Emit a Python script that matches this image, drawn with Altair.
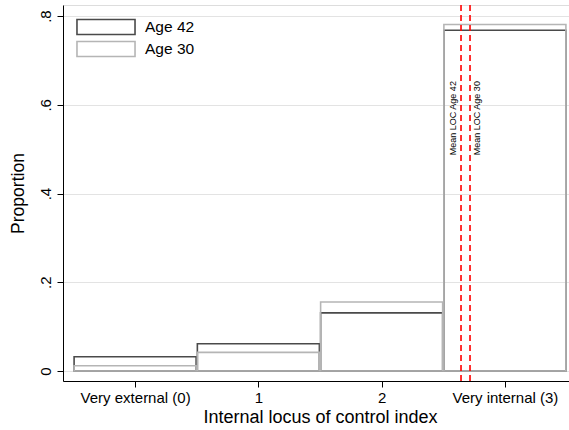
import altair as alt
import pandas as pd

categories = [0, 1, 2, 3]
cat_labels = ["Very external (0)", "1", "2", "Very internal (3)"]
age42 = [0.032, 0.0615, 0.131, 0.768]
age30 = [0.012, 0.042, 0.1555, 0.781]
mean_names = ["Mean LOC Age 42", "Mean LOC Age 30"]
mean_values = [2.644, 2.717]

rows = []
for g, vals in [("Age 42", age42), ("Age 30", age30)]:
    for c, v in zip(categories, vals):
        rows.append({"cat": c, "group": g, "value": v, "x0": c - 0.495, "x1": c + 0.495})
bars_df = pd.DataFrame(rows)
means_df = pd.DataFrame({"name": mean_names, "mean": mean_values, "ypos": [0.57, 0.57]})

FONT = "Liberation Sans"
xscale = alt.Scale(domain=[-0.585, 3.52], nice=False, zero=False)
yscale = alt.Scale(domain=[-0.0225, 0.825], nice=False, zero=False)

label_expr = ("datum.value == 0 ? '" + cat_labels[0] + "' : datum.value == 3 ? '" + cat_labels[3]
              + "' : format(datum.value, 'd')")

bars = alt.Chart(bars_df).mark_rect(fill=None, fillOpacity=0, strokeWidth=1.6).encode(
    x=alt.X("x0:Q", scale=xscale,
            axis=alt.Axis(values=categories, labelExpr=label_expr, title="Internal locus of control index",
                          grid=False, tickSize=6, labelFontSize=15, titleFontSize=18, labelPadding=3,
                          titlePadding=3, titleX=257, titleFontWeight="normal", domainColor="#000",
                          tickColor="#000", labelColor="#000", titleColor="#000",
                          labelFont=FONT, titleFont=FONT)),
    x2="x1:Q",
    y=alt.Y("value:Q", scale=yscale,
            axis=alt.Axis(values=[0, 0.2, 0.4, 0.6, 0.8],
                          labelExpr="datum.value == 0 ? '0' : replace(format(datum.value, '.1f'), '0.', '.')",
                          title="Proportion", labelAngle=270, labelAlign="center", labelBaseline="bottom",
                          tickSize=6, labelFontSize=15, titleFontSize=17.5, labelPadding=4, titlePadding=11,
                          titleFontWeight="normal", gridColor="#e3e3e3", gridWidth=1,
                          domainColor="#000", tickColor="#000", labelColor="#000", titleColor="#000",
                          labelFont=FONT, titleFont=FONT)),
    y2=alt.datum(0),
    stroke=alt.Stroke("group:N",
                      scale=alt.Scale(domain=["Age 42", "Age 30"], range=["#4a4a4a", "#b5b5b5"]),
                      legend=alt.Legend(title=None, orient="none", legendX=34.5, legendY=13.5,
                                        symbolType="M-3.87,-1H3.87V1H-3.87Z", symbolSize=225,
                                        symbolFillColor="white", symbolStrokeWidth=1.6,
                                        labelFontSize=15.5, labelFont=FONT, labelColor="#000",
                                        labelOffset=30.5, rowPadding=-1)),
    order=alt.Order("order:Q"),
).transform_calculate(order="datum.group == 'Age 42' ? 0 : 1")

rules = alt.Chart(means_df).mark_rule(color="#ff0000", strokeDash=[6, 4], strokeWidth=1.6).encode(
    x=alt.X("mean:Q", scale=xscale),
)

texts42 = alt.Chart(means_df[means_df["name"] == mean_names[0]]).mark_text(
    angle=270, fontSize=9, font=FONT, baseline="bottom", align="center", dy=-3, color="#000"
).encode(x=alt.X("mean:Q", scale=xscale), y=alt.Y("ypos:Q", scale=yscale), text="name:N")

texts30 = alt.Chart(means_df[means_df["name"] == mean_names[1]]).mark_text(
    angle=270, fontSize=9, font=FONT, baseline="top", align="center", dy=3, color="#000"
).encode(x=alt.X("mean:Q", scale=xscale), y=alt.Y("ypos:Q", scale=yscale), text="name:N")

chart = alt.layer(bars, rules, texts42, texts30).properties(
    width=506, height=376,
    autosize=alt.AutoSizeParams(type="none"),
    padding={"left": 63, "top": 5, "right": 0, "bottom": 49},
).configure_view(stroke=None).configure(background="white")

chart.save("out.html", embed_options={"renderer": "svg", "actions": False})
